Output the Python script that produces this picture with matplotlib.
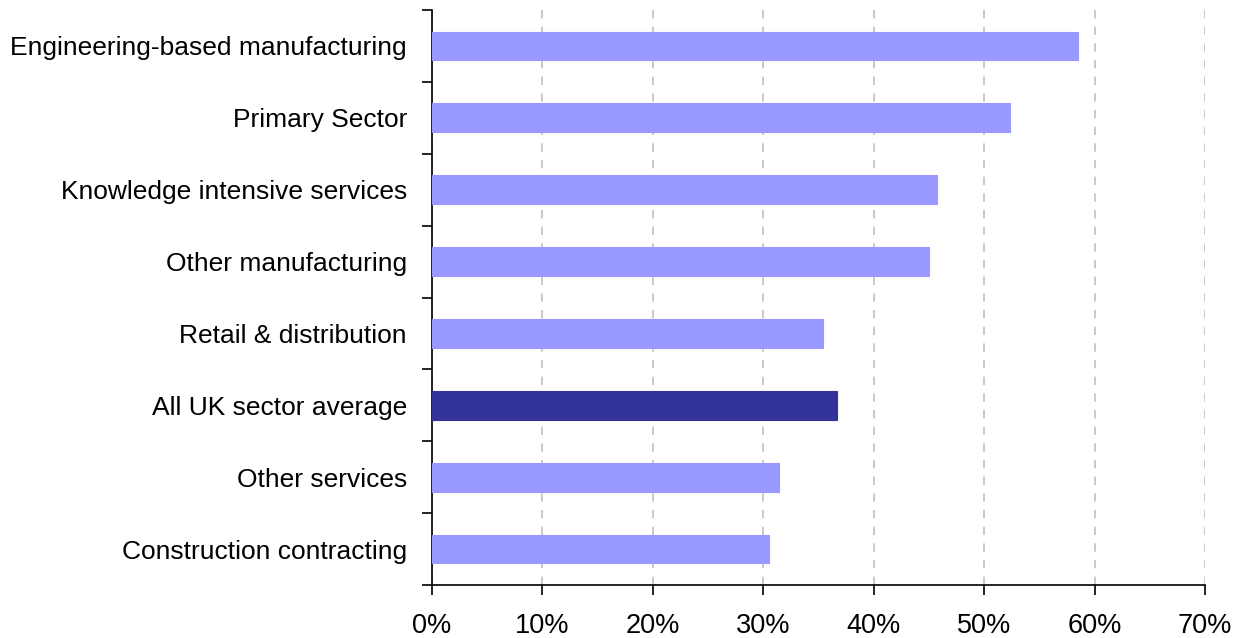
import numpy as np
import matplotlib.pyplot as plt
from matplotlib.ticker import FixedLocator, MultipleLocator, PercentFormatter

# Sector shares (%), top to bottom
sectors = [
    "Engineering-based manufacturing",
    "Primary Sector",
    "Knowledge intensive services",
    "Other manufacturing",
    "Retail & distribution",
    "All UK sector average",
    "Other services",
    "Construction contracting",
]
shares = [58.5, 52.3, 45.7, 45.0, 35.4, 36.7, 31.4, 30.5]
highlight = "All UK sector average"

light = "#9999ff"
dark = "#333399"

plt.rcParams['font.family'] = ['Liberation Sans', 'DejaVu Sans']

fig = plt.figure(figsize=(12.39, 6.38), dpi=100)
ax = fig.add_axes([432 / 1239, 53 / 638, 773 / 1239, 575 / 638])

y = np.arange(len(sectors))
colors = [dark if s == highlight else light for s in sectors]
ax.barh(y, shares, height=0.4, color=colors, edgecolor=colors, linewidth=0.8, zorder=3)

ax.set_xlim(0, 70)
ax.set_ylim(len(sectors) - 0.5, -0.5)

ax.xaxis.set_major_locator(MultipleLocator(10))
ax.xaxis.set_major_formatter(PercentFormatter(decimals=0))
ax.set_yticks(y)
ax.set_yticklabels(sectors)
ax.yaxis.set_minor_locator(FixedLocator(np.arange(-0.5, len(sectors), 1)))

ax.tick_params(axis='y', which='major', length=0, pad=18, labelsize=19)
ax.tick_params(axis='y', which='minor', length=7, width=1.2, direction='out')
ax.tick_params(axis='x', length=7, width=1.2, direction='out', labelsize=19.5, pad=13)

ax.grid(axis='x', color='#c0c0c0', linestyle=(0, (5, 5)), linewidth=1.2, zorder=0)

for side in ['top', 'right']:
    ax.spines[side].set_visible(False)
for side in ['left', 'bottom']:
    ax.spines[side].set_linewidth(1.2)

fig.savefig("out.png", dpi=100)
